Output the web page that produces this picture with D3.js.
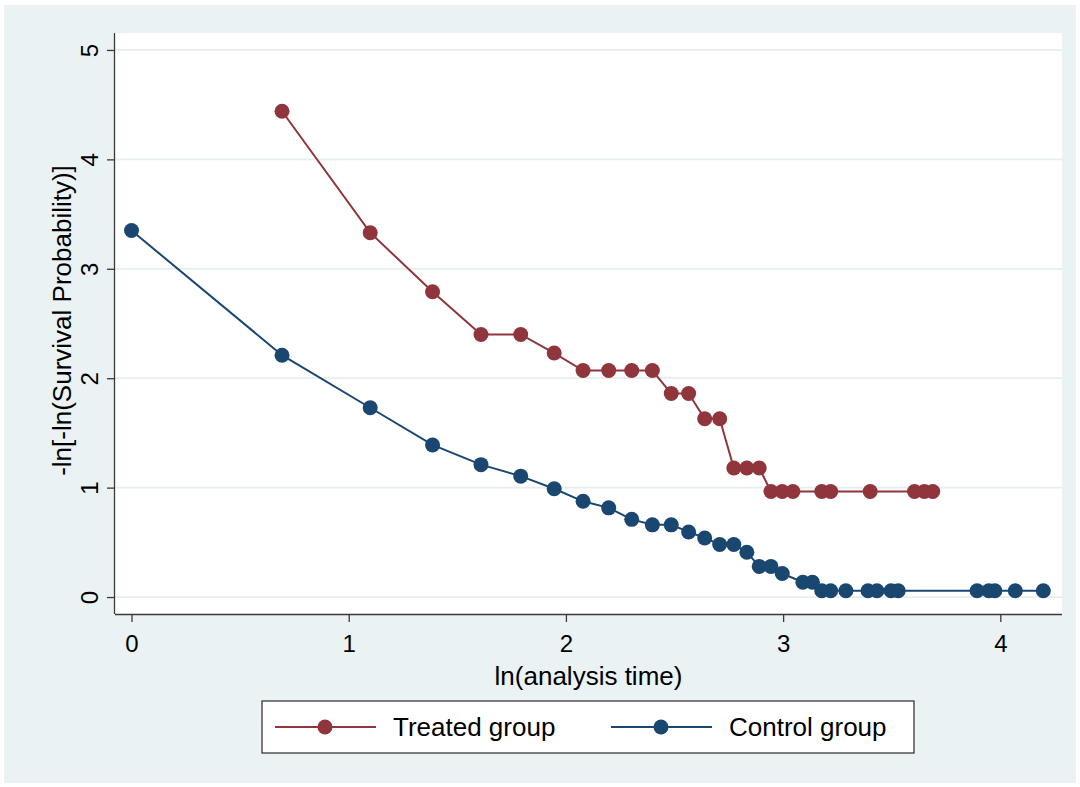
<!DOCTYPE html>
<html><head><meta charset="utf-8">
<script src="https://cdn.jsdelivr.net/npm/d3@7"></script>
<style>body{margin:0;background:#fff} svg{display:block}</style>
</head><body><svg id="c" width="1080" height="787"></svg>
<script>
const treatedX = [0.693,1.099,1.386,1.609,1.792,1.946,2.079,2.197,2.303,2.398,2.485,2.565,2.639,2.708,2.773,2.833,2.890,2.944,2.996,3.045,3.178,3.219,3.401,3.605,3.650,3.689];
const treatedY = [4.44,3.33,2.79,2.40,2.40,2.23,2.07,2.07,2.07,2.07,1.86,1.86,1.63,1.63,1.18,1.18,1.18,0.965,0.965,0.965,0.965,0.965,0.965,0.965,0.965,0.965];
const controlX = [0,0.693,1.099,1.386,1.609,1.792,1.946,2.079,2.197,2.303,2.398,2.485,2.565,2.639,2.708,2.773,2.833,2.890,2.944,2.996,3.091,3.135,3.178,3.219,3.289,3.391,3.432,3.497,3.530,3.893,3.947,3.975,4.069,4.198];
const controlY = [3.35,2.21,1.73,1.39,1.21,1.105,0.99,0.875,0.815,0.71,0.66,0.66,0.595,0.54,0.48,0.48,0.41,0.28,0.28,0.215,0.135,0.135,0.058,0.058,0.058,0.058,0.058,0.058,0.058,0.058,0.058,0.058,0.058,0.058];
const xTicks = [0,1,2,3,4];
const yTicks = [0,1,2,3,4,5];
const seriesNames = ["Treated group","Control group"];
const seriesColors = ["#90353b","#1a476f"];
const xTitle = "ln(analysis time)";
const yTitle = "-ln[-ln(Survival Probability)]";

const FONT = "'Liberation Sans', Arial, Helvetica, sans-serif";
const svg = d3.select("#c");
const L = 115, R = 1062, T = 33, B = 614;

svg.append("rect").attr("x",4).attr("y",5).attr("width",1072).attr("height",778).attr("fill","#eaf2f3");
svg.append("rect").attr("x",L).attr("y",T).attr("width",R-L).attr("height",B-T).attr("fill","#fff");

const x = d3.scaleLinear().domain([-0.076,4.284]).range([L,R]);
const y = d3.scaleLinear().domain([-0.155,5.155]).range([B,T]);

// grid
svg.append("g").selectAll("line").data(yTicks).join("line")
  .attr("x1",L).attr("x2",R).attr("y1",d=>y(d)).attr("y2",d=>y(d))
  .attr("stroke","#e6eef0").attr("stroke-width",1.8);

// axes
const xAxis = svg.append("g").attr("transform",`translate(0,${B})`)
  .call(d3.axisBottom(x).tickValues(xTicks).tickFormat(d3.format("d")).tickSize(8).tickPadding(8));
const yAxis = svg.append("g").attr("transform",`translate(${L},0)`)
  .call(d3.axisLeft(y).tickValues(yTicks).tickFormat(d3.format("d")).tickSize(8).tickPadding(8));
[xAxis,yAxis].forEach(a=>{
  a.select(".domain").attr("stroke","#3a3a3a").attr("stroke-width",1.3);
  a.selectAll(".tick line").attr("stroke","#3a3a3a").attr("stroke-width",1.3);
  a.selectAll("text").attr("font-family",FONT).attr("font-size",24).attr("fill","#000");
});
xAxis.select(".domain").attr("d",`M${L},0.5H${R}`);
yAxis.select(".domain").attr("d",`M-0.5,${B}V${T}`);
xAxis.selectAll(".tick text").attr("dy","0.9em");
yAxis.selectAll(".tick text")
  .attr("text-anchor","middle").attr("x",0)
  .attr("transform","translate(-25,0) rotate(-90)")
  .attr("dy","0.35em");

// titles
svg.append("text").attr("x",(L+R)/2).attr("y",685).attr("text-anchor","middle")
  .attr("font-family",FONT).attr("font-size",26).text(xTitle);
svg.append("text").attr("transform",`translate(71,${(T+B)/2 - 3}) rotate(-90)`).attr("text-anchor","middle")
  .attr("font-family",FONT).attr("font-size",26).text(yTitle);

// series
const series = [
  {name:seriesNames[0], color:seriesColors[0], pts:treatedX.map((v,i)=>[v,treatedY[i]])},
  {name:seriesNames[1], color:seriesColors[1], pts:controlX.map((v,i)=>[v,controlY[i]])}
];
const line = d3.line().x(d=>x(d[0])).y(d=>y(d[1]));
series.forEach(s=>{
  const g = svg.append("g");
  g.append("path").attr("d",line(s.pts)).attr("fill","none").attr("stroke",s.color).attr("stroke-width",2);
  g.selectAll("circle").data(s.pts).join("circle")
    .attr("cx",d=>x(d[0])).attr("cy",d=>y(d[1])).attr("r",7.5).attr("fill",s.color);
});

// legend
const lg = svg.append("g");
lg.append("rect").attr("x",262).attr("y",701).attr("width",652).attr("height",52)
  .attr("fill","#fff").attr("stroke","#3a3a3a").attr("stroke-width",1.3);
const legX = [275, 611];
series.forEach((s,i)=>{
  const g = lg.append("g").attr("transform",`translate(${legX[i]},727)`);
  g.append("line").attr("x1",0).attr("x2",101).attr("stroke",s.color).attr("stroke-width",2);
  g.append("circle").attr("cx",50).attr("r",7.5).attr("fill",s.color);
  g.append("text").attr("x",118).attr("dy","0.35em").attr("font-family",FONT).attr("font-size",26).text(s.name);
});
</script></body></html>
